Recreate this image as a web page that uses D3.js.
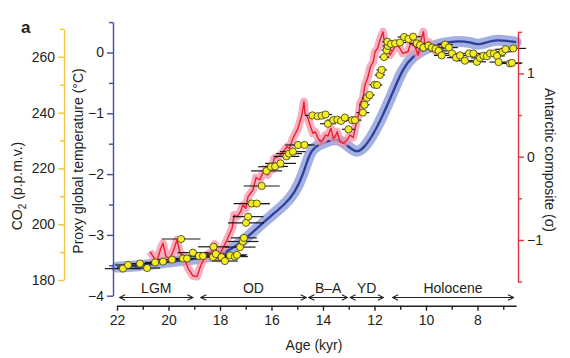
<!DOCTYPE html>
<html><head><meta charset="utf-8">
<script src="https://cdn.jsdelivr.net/npm/d3@7"></script>
<style>body{margin:0;background:#fff}svg{display:block;font-family:"Liberation Sans",Arial,sans-serif}</style>
</head><body><svg id="c" width="570" height="358"></svg>
<script>
// ---- data ----
const tempAge = [22.0,21.1,20.14,19.17,18.39,17.81,17.22,16.64,16.06,15.48,15.09,14.78,14.5,14.19,13.84,13.5,13.22,12.95,12.68,12.41,12.06,11.67,11.28,10.89,10.5,10.12,9.73,9.26,8.76,8.29,7.98,7.63,7.24,6.85,6.5];
const tempVal = [-3.53,-3.51,-3.45,-3.41,-3.36,-3.3,-3.14,-2.92,-2.7,-2.5,-2.3,-2.02,-1.62,-1.52,-1.46,-1.42,-1.47,-1.57,-1.65,-1.57,-1.36,-1.03,-0.65,-0.25,-0.06,0.04,0.11,0.16,0.19,0.17,0.12,0.17,0.21,0.19,0.17];

const antAge = [20.72,20.55,20.45,20.3,20.21,20.1,19.94,19.8,19.67,19.55,19.44,19.24,19.05,18.89,18.74,18.54,18.31,18.2,18.08,17.92,17.73,17.53,17.45,17.34,17.2,17.11,17.0,16.91,16.72,16.6,16.45,16.35,16.25,16.15,16.06,15.98,15.9,15.75,15.65,15.55,15.4,15.3,15.17,14.97,14.82,14.74,14.7,14.58,14.48,14.39,14.3,14.19,14.1,14.0,13.9,13.81,13.69,13.6,13.53,13.45,13.34,13.2,13.07,12.95,12.83,12.68,12.6,12.56,12.45,12.37,12.25,12.17,12.05,11.98,11.88,11.79,11.67,11.6,11.51,11.4,11.28,11.15,11.01,10.9,10.7,10.6,10.43,10.3,10.23,10.1,10.04,9.9,9.77,9.6,9.46];
const antVal = [-1.14,-1.22,-1.26,-1.1,-1.04,-1.2,-1.22,-1.12,-1.0,-1.16,-1.18,-1.34,-1.43,-1.44,-1.3,-1.18,-1.14,-1.05,-1.22,-1.12,-1.0,-0.86,-0.7,-0.72,-0.66,-0.58,-0.62,-0.48,-0.4,-0.25,-0.28,-0.2,-0.18,-0.22,-0.12,-0.16,-0.02,0.0,0.02,0.06,0.12,0.1,0.22,0.34,0.5,0.66,0.52,0.46,0.36,0.28,0.3,0.22,0.18,0.2,0.26,0.25,0.34,0.22,0.24,0.3,0.18,0.16,0.2,0.26,0.23,0.44,0.52,0.64,0.7,0.86,0.96,1.07,1.14,1.26,1.3,1.4,1.5,1.34,1.32,1.22,1.28,1.36,1.3,1.24,1.26,1.36,1.32,1.22,1.36,1.5,1.34,1.38,1.3,1.26,1.34];

const co2Age = [21.77,21.57,21.11,20.83,20.52,20.21,19.86,19.51,19.44,19.28,19.05,18.82,18.66,18.25,18.27,18.16,17.94,17.81,17.61,17.42,17.34,17.22,17.11,17.07,16.99,16.91,16.77,16.57,16.38,16.19,16.02,15.86,15.65,15.42,15.32,15.17,14.97,14.72,14.41,14.21,14.05,13.9,13.81,13.6,13.44,13.3,13.15,13.01,12.87,12.76,12.45,12.39,12.29,12.19,12.0,11.9,11.79,11.72,11.63,11.53,11.48,11.5,11.36,11.2,11.01,10.85,10.68,10.5,10.36,10.23,10.1,9.91,9.77,9.63,9.51,9.39,9.26,9.11,8.99,8.83,8.68,8.49,8.33,8.16,8.02,7.9,7.77,7.63,7.51,7.36,7.24,7.18,7.03,6.91,6.74,6.66,6.61];
const co2Val = [184.1,185.4,185.9,184.3,186.3,186.6,187.3,194.7,187.7,187.7,189.8,188.6,188.6,191.9,188.2,189.3,188.2,186.8,188.8,188.4,189.0,191.8,193.8,195.1,200.5,202.7,207.4,207.4,213.7,219.1,220.6,220.7,221.8,224.3,225.3,226.0,228.4,228.4,239.0,238.7,238.9,239.3,236.0,237.3,237.5,237.0,238.2,234.0,237.3,237.3,240.0,242.8,245.3,246.3,250.0,249.9,253.5,255.3,259.9,262.4,263.9,265.4,264.6,264.8,265.1,267.1,266.4,267.2,264.8,264.2,263.3,264.0,263.3,262.8,262.1,260.5,264.4,263.3,261.2,259.7,260.5,258.6,261.2,261.2,258.2,259.6,260.4,260.2,261.2,261.2,260.3,258.1,261.8,262.7,257.6,257.8,263.0];
const co2Err = [0.7,0.5,0.5,0.5,0.4,0.5,0.6,0.75,0.4,0.5,0.6,0.4,0.5,0.6,0.6,0.5,0.4,0.5,0.6,0.5,0.4,0.6,0.6,0.5,0.7,0.6,0.7,0.5,0.7,0.6,0.5,0.5,0.6,0.5,0.5,0.5,0.5,0.4,0.3,0.25,0.25,0.25,0.3,0.25,0.3,0.25,0.25,0.25,0.25,0.25,0.25,0.2,0.2,0.2,0.2,0.2,0.2,0.2,0.2,0.2,0.2,0.2,0.25,0.2,0.25,0.25,0.3,0.3,0.3,0.3,0.3,0.3,0.35,0.35,0.35,0.3,0.3,0.35,0.3,0.35,0.35,0.35,0.3,0.3,0.35,0.35,0.35,0.35,0.35,0.35,0.3,0.35,0.35,0.4,0.45,0.4,0.5];

const periodNames = ["LGM","OD","B\u2013A","YD","Holocene"];
const periodStart = [21.9,18.75,14.55,12.95,11.3];
const periodEnd = [19.05,14.65,13.05,11.65,6.6];

const ageTicks = [22,20,18,16,14,12,10,8];
const ageMinor = [21,19,17,15,13,11,9,7];
const tempTicks = [0,-1,-2,-3,-4];
const tempMinor = [0.5,-0.5,-1.5,-2.5,-3.5];
const co2Ticks = [180,200,220,240,260];
const co2Minor = [190,210,230,250,270];
const antTicks = [1,0,-1];
const antMinor = [1.5,0.5,-0.5,-1.5];

// ---- scales ----
const svg = d3.select("#c");
const x = d3.scaleLinear().domain([22,6.5]).range([117,516.1]);
const yT = d3.scaleLinear().domain([-4,0.5]).range([295.7,22.1]);
const yC = d3.scaleLinear().domain([180,270]).range([280,28.9]);
const yA = d3.scaleLinear().domain([-1.5,1.5]).range([281.6,31.8]);

const txt = "#231f20";
const blueAx = "#3c4fa6", yelAx = "#f3c544", redAx = "#e8303a";
const minus = s => String(s).replace("-", "\u2212");

// ---- series ----
const tData = tempAge.map((a,i)=>[a,tempVal[i]]);
const lineT = d3.line().x(d=>x(d[0])).y(d=>yT(d[1])).curve(d3.curveBasis);
svg.append("path").attr("d", lineT(tData)).attr("fill","none").attr("stroke","#8f9cdb").attr("stroke-opacity",0.8).attr("stroke-width",11).attr("stroke-linejoin","round").attr("stroke-linecap","round");
svg.append("path").attr("d", lineT(tData)).attr("fill","none").attr("stroke","#2c3f98").attr("stroke-width",2.3);

const aData = antAge.map((a,i)=>[a,antVal[i]]);
const lineA = d3.line().x(d=>x(d[0])).y(d=>yA(d[1]));
svg.append("path").attr("d", lineA(aData)).attr("fill","none").attr("stroke","#f394ab").attr("stroke-opacity",0.75).attr("stroke-width",8).attr("stroke-linejoin","round");
svg.append("path").attr("d", lineA(aData)).attr("fill","none").attr("stroke","#ea2029").attr("stroke-width",1.4).attr("stroke-linejoin","round");

// CO2 error bars & points
const cData = co2Age.map((a,i)=>({a, v:co2Val[i], e:co2Err[i]}));
svg.append("g").selectAll("line").data(cData).join("line")
  .attr("x1",d=>x(d.a+d.e)).attr("x2",d=>x(d.a-d.e))
  .attr("y1",d=>yC(d.v)).attr("y2",d=>yC(d.v))
  .attr("stroke","#1a1a1a").attr("stroke-width",1.2);
svg.append("g").selectAll("circle").data(cData).join("circle")
  .attr("cx",d=>x(d.a)).attr("cy",d=>yC(d.v)).attr("r",3.6)
  .attr("fill","#f5ec24").attr("stroke","#3a3a1a").attr("stroke-width",0.8);

// ---- axes ----
function styleAxis(g, col){
  g.select(".domain").attr("stroke",col).attr("stroke-width",1.4);
  g.selectAll(".tick line").attr("stroke",col).attr("stroke-width",1.4);
  g.selectAll(".tick text").attr("fill",txt).attr("font-size",14);
}
const gx = svg.append("g").attr("transform","translate(0,305.7)")
  .call(d3.axisBottom(x).tickValues(ageTicks).tickSize(5).tickPadding(4).tickSizeOuter(0));
styleAxis(gx,"#231f20");
gx.select(".domain").attr("stroke-width",1.6);
svg.append("g").attr("transform","translate(0,305.7)")
  .call(d3.axisBottom(x).tickValues(ageMinor).tickSize(4).tickFormat("").tickSizeOuter(0))
  .call(g=>{g.select(".domain").remove(); g.selectAll("line").attr("stroke","#231f20").attr("stroke-width",1.4);});

const gT = svg.append("g").attr("transform","translate(113,0)")
  .call(d3.axisLeft(yT).tickValues(tempTicks).tickSize(6).tickPadding(3).tickSizeOuter(0).tickFormat(minus));
styleAxis(gT, blueAx);
svg.append("g").attr("transform","translate(113,0)")
  .call(d3.axisLeft(yT).tickValues(tempMinor).tickSize(4).tickFormat("").tickSizeOuter(0))
  .call(g=>{g.select(".domain").remove(); g.selectAll("line").attr("stroke",blueAx).attr("stroke-width",1.4);});

const gC = svg.append("g").attr("transform","translate(64,0)")
  .call(d3.axisLeft(yC).tickValues(co2Ticks).tickSize(6).tickPadding(3).tickSizeOuter(0));
styleAxis(gC, yelAx);
svg.append("g").attr("transform","translate(64,0)")
  .call(d3.axisLeft(yC).tickValues(co2Minor).tickSize(4).tickFormat("").tickSizeOuter(0))
  .call(g=>{g.select(".domain").remove(); g.selectAll("line").attr("stroke",yelAx).attr("stroke-width",1.4);});

const gA = svg.append("g").attr("transform","translate(518,0)")
  .call(d3.axisRight(yA).tickValues(antTicks).tickSize(6).tickPadding(3).tickSizeOuter(0).tickFormat(minus));
styleAxis(gA, redAx);
svg.append("g").attr("transform","translate(518,0)")
  .call(d3.axisRight(yA).tickValues(antMinor).tickSize(4).tickFormat("").tickSizeOuter(0))
  .call(g=>{g.select(".domain").remove(); g.selectAll("line").attr("stroke",redAx).attr("stroke-width",1.4);});

// ---- period arrows ----
const defs = svg.append("defs");
defs.append("marker").attr("id","ah").attr("viewBox","0 0 10 10").attr("refX",9).attr("refY",5)
  .attr("markerWidth",7).attr("markerHeight",7).attr("markerUnits","userSpaceOnUse").attr("orient","auto-start-reverse")
  .append("path").attr("d","M1,1 L9,5 L1,9").attr("fill","none").attr("stroke","#231f20").attr("stroke-width",1.6);
const pg = svg.append("g");
periodNames.forEach((n,i)=>{
  pg.append("line").attr("x1",x(periodStart[i])).attr("x2",x(periodEnd[i])).attr("y1",297.5).attr("y2",297.5)
    .attr("stroke","#231f20").attr("stroke-width",1.2)
    .attr("marker-start","url(#ah)").attr("marker-end","url(#ah)");
  pg.append("text").attr("x",(x(periodStart[i])+x(periodEnd[i]))/2).attr("y",292.5)
    .attr("text-anchor","middle").attr("font-size",14).attr("fill",txt).text(n);
});

// ---- labels ----
svg.append("text").attr("x",314).attr("y",350).attr("text-anchor","middle").attr("font-size",14).attr("fill",txt).text("Age (kyr)");
const co2L = svg.append("text").attr("transform","translate(22,186) rotate(-90)").attr("text-anchor","middle").attr("font-size",14).attr("fill",txt);
co2L.append("tspan").text("CO");
co2L.append("tspan").attr("font-size",10).attr("dy",4).text("2");
co2L.append("tspan").attr("dy",-4).text(" (p.p.m.v.)");
svg.append("text").attr("transform","translate(83,161) rotate(-90)").attr("text-anchor","middle").attr("font-size",14).attr("fill",txt).text("Proxy global temperature (\u00B0C)");
svg.append("text").attr("transform","translate(545,160) rotate(90)").attr("text-anchor","middle").attr("font-size",14).attr("fill",txt).text("Antarctic composite (\u03C3)");
svg.append("text").attr("x",21).attr("y",33).attr("font-size",17).attr("font-weight","bold").attr("fill",txt).text("a");
</script></body></html>
